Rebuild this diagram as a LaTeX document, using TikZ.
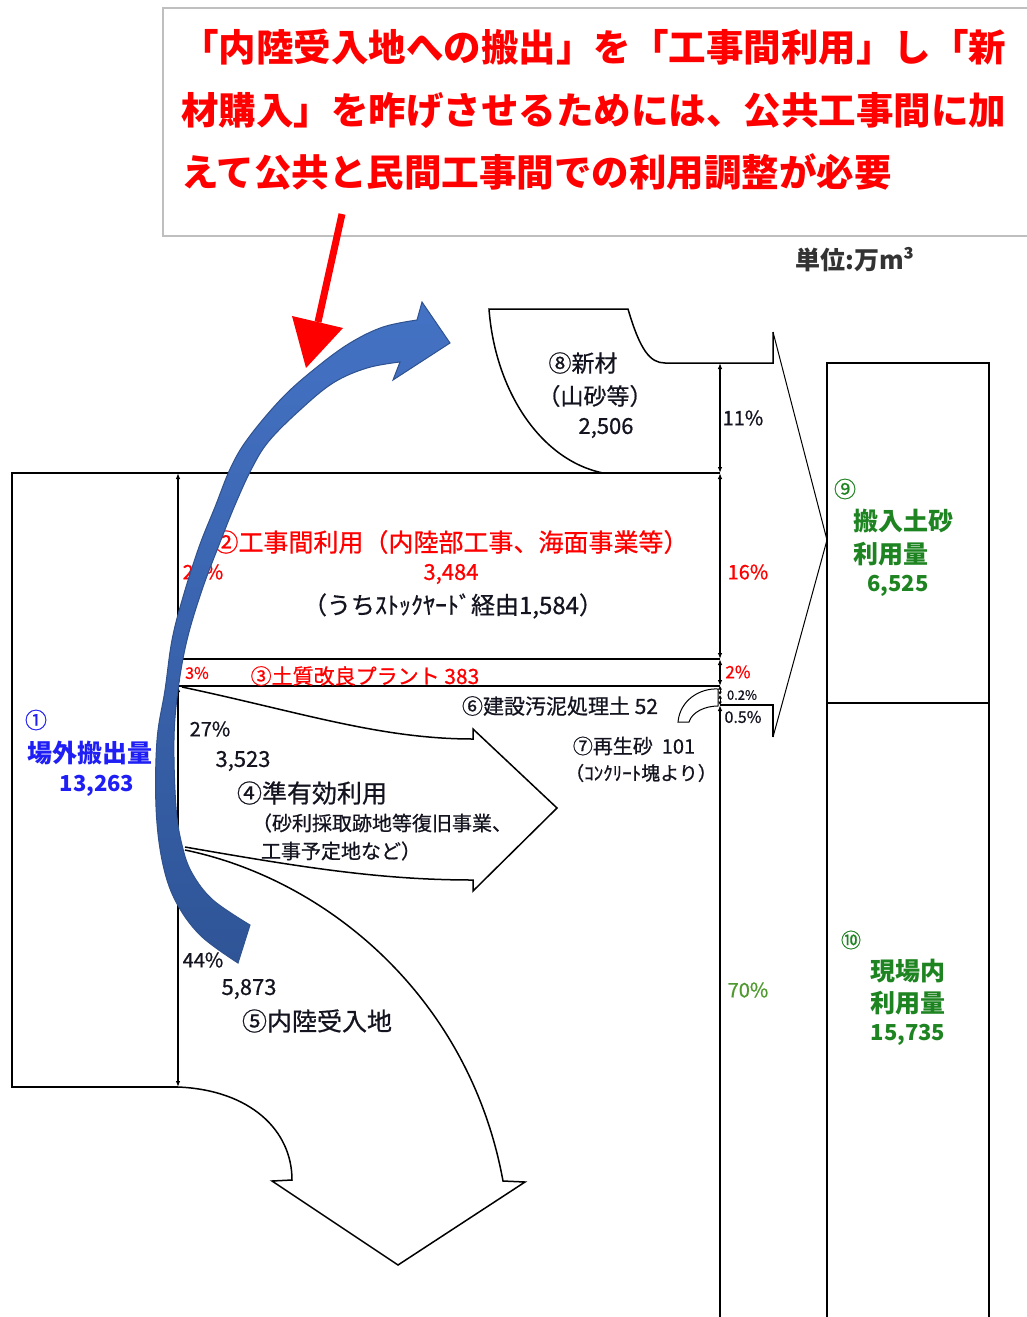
\documentclass[tikz,border=0pt]{standalone}
\usepackage{fontspec}
\setmainfont{Noto Sans CJK JP}[UprightFeatures={FakeBold=0.7}]
\usetikzlibrary{arrows.meta}
\definecolor{labelc}{HTML}{141420}
\definecolor{redc}{HTML}{FF0000}
\definecolor{greenc}{HTML}{1E8421}
\definecolor{lgreenc}{HTML}{4E9A2E}
\definecolor{bluec}{HTML}{1F1FF5}
\definecolor{grayc}{HTML}{BFBFBF}
\definecolor{unitc}{HTML}{333333}
\definecolor{arrtop}{HTML}{4472C4}
\definecolor{arrbot}{HTML}{2F5597}
\definecolor{arrline}{HTML}{2F528F}
\newcommand\myfs[1]{\fontsize{#1}{#1}\selectfont}
\begin{document}
\begin{tikzpicture}[x=1pt,y=-1pt,
  outl/.style={line width=1.5pt, black, line join=miter},
  thinl/.style={line width=1pt, black},
  dim/.style={line width=1.1pt, black, {Latex[length=6pt,width=4.5pt]}-{Latex[length=6pt,width=4.5pt]}},
  dimsm/.style={line width=1pt, black, {Latex[length=3.5pt,width=4pt]}-{Latex[length=3.5pt,width=4pt]}},
  dimst/.style={line width=1.1pt, black, {Latex[length=6pt,width=4.5pt]}-},
  lbl/.style={inner sep=0pt, anchor=center, text=labelc},
  big/.style={inner sep=0pt, anchor=west, text=redc, font=\myfs{37.5}\bfseries}
]
\useasboundingbox (0,0) rectangle (1027,1317);
\fill[white] (0,0) rectangle (1027,1317);

% callout box
\draw[grayc, line width=1.5pt] (1035,8) -- (163,8) -- (163,236) -- (1035,236);
\node[big] (t1) at (181,47) {「内陸受入地への搬出」を「工事間利用」し「新};
\node[big] (t2) at (181,110) {材購入」を昨げさせるためには、公共工事間に加};
\node[big] (t3) at (181,172) {えて公共と民間工事間での利用調整が必要};

\node[lbl, text=unitc, font=\myfs{25}\bfseries] (unit) at (855,260) {単位:万m³};

% box 1 and bands
\draw[outl] (720,473) -- (12,473) -- (12,1087) -- (178,1087);
\draw[outl] (178,659) -- (720,659);
\draw[outl] (178,686) -- (720,686);

% 8 shape and big arrow to 9
\draw[outl] (603,473) .. controls (540,460) and (495,390) .. (489,309) -- (628,309)
  .. controls (640,350) and (650,363) .. (665,363) -- (773,363) -- (773,332);
\draw[thinl] (773,332) -- (827,540) -- (773,737);
\draw[outl] (773,737) -- (773,705) -- (720,705);

% 4 arrow
\draw[outl] (182,687) .. controls (300,712) and (380,739) .. (473,739) -- (473,729)
  -- (557,808) -- (473,891) -- (473,880) .. controls (380,880) and (300,867) .. (185,847);

% 5 arrow
\draw[outl] (185,850) .. controls (330,880) and (470,1000) .. (503,1181) -- (525,1182)
  -- (398,1265) -- (272,1181) -- (292,1180) .. controls (292,1130) and (250,1090) .. (178,1087);

% 6 small arrow
\draw[thinl, fill=white] (678,722) .. controls (680,700) and (700,688) .. (718,689) -- (718,706)
  .. controls (705,706) and (692,712) .. (689,722) -- cycle;

% right boxes
\draw[outl] (827,1322) -- (827,363) -- (989,363) -- (989,1322);
\draw[outl] (827,703) -- (989,703);

% dimension lines
\coordinate (L1) at (178,473);
\coordinate (L2) at (178,659);
\coordinate (L3) at (178,686);
\coordinate (L4) at (178,848);
\coordinate (L5) at (178,1087);
\draw[dim] (L1) -- (L2);
\draw[dim] (L2) -- (L3);
\draw[dim] (L3) -- (L4);
\draw[dim] (L4) -- (L5);
\coordinate (R0) at (720,363);
\coordinate (R1) at (720,473);
\coordinate (R2) at (720,659);
\coordinate (R3) at (720,686);
\coordinate (R4) at (720,695);
\coordinate (R5) at (720,705);
\coordinate (R6) at (720,1322);
\draw[dim] (R0) -- (R1);
\draw[dim] (R1) -- (R2);
\draw[dim] (R2) -- (R3);
\draw[dimsm] (R3) -- (R4);
\draw[dimsm] (R4) -- (R5);
\draw[dimst] (R5) -- (R6);

% labels
\node[lbl, font=\myfs{23}] (n8a) at (583,363) {⑧新材};
\node[lbl, font=\myfs{23}] (n8b) at (595,396) {（山砂等）};
\node[lbl, font=\myfs{22}] (n8c) at (606,428) {2,506};
\node[lbl, font=\myfs{20}] (p11) at (743,418) {11\%};

\node[lbl, text=redc, font=\myfs{25}] (n2a) at (451,542) {②工事間利用（内陸部工事、海面事業等）};
\node[lbl, text=redc, font=\myfs{22}] (n2b) at (451,574) {3,484};
\node[lbl, font=\myfs{24}] (n2c) at (453,606) {（うちｽﾄｯｸﾔｰﾄﾞ経由1,584）};
\node[lbl, text=redc, font=\myfs{20}] (p26) at (203,572) {26\%};
\node[lbl, text=redc, font=\myfs{20}] (p16) at (748,572) {16\%};

\node[lbl, text=redc, font=\myfs{16}] (p3) at (197,673) {3\%};
\node[lbl, text=redc, font=\myfs{21}] (n3) at (365,676) {③土質改良プラント 383};
\node[lbl, text=redc, font=\myfs{17}] (p2) at (738,672) {2\%};
\node[lbl, font=\myfs{13}] (p02) at (742,695) {0.2\%};
\node[lbl, font=\myfs{16}] (p05) at (743,717) {0.5\%};

\node[lbl, font=\myfs{21}] (n6) at (560,706) {⑥建設汚泥処理土 52};
\node[lbl, font=\myfs{20}] (n7a) at (634,746) {⑦再生砂\ \ 101};
\node[lbl, font=\myfs{19}] (n7b) at (641,773) {（ｺﾝｸﾘｰﾄ塊より）};

\node[lbl, font=\myfs{20}] (p27) at (210,729) {27\%};
\node[lbl, font=\myfs{22}] (n4a) at (243,761) {3,523};
\node[lbl, font=\myfs{25}] (n4b) at (312,793) {④準有効利用};
\node[lbl, font=\myfs{20}] (n4c) at (382,823) {（砂利採取跡地等復旧事業、};
\node[lbl, font=\myfs{20}] (n4d) at (341,851) {工事予定地など）};

\node[lbl, font=\myfs{20}] (p44) at (203,960) {44\%};
\node[lbl, font=\myfs{22}] (n5a) at (249,989) {5,873};
\node[lbl, font=\myfs{25}] (n5b) at (317,1021) {⑤内陸受入地};

\node[lbl, text=bluec, font=\myfs{22}] (n1a) at (36,720) {①};
\node[lbl, text=bluec, font=\myfs{25}\bfseries] (n1b) at (90,753) {場外搬出量};
\node[lbl, text=bluec, font=\myfs{22}\bfseries] (n1c) at (97,786) {13,263};

\node[lbl, text=greenc, font=\myfs{22}] (n9a) at (845,489) {⑨};
\node[lbl, text=greenc, font=\myfs{25}\bfseries] (n9b) at (903,521) {搬入土砂};
\node[lbl, text=greenc, font=\myfs{25}\bfseries] (n9c) at (891,554) {利用量};
\node[lbl, text=greenc, font=\myfs{22}\bfseries] (n9d) at (898,586) {6,525};

\node[lbl, text=greenc, font=\myfs{20}] (n10a) at (851,940) {⑩};
\node[lbl, text=greenc, font=\myfs{25}\bfseries] (n10b) at (908,971) {現場内};
\node[lbl, text=greenc, font=\myfs{25}\bfseries] (n10c) at (908,1003) {利用量};
\node[lbl, text=greenc, font=\myfs{22}\bfseries] (n10d) at (908,1035) {15,735};
\node[lbl, text=lgreenc, font=\myfs{20}] (p70) at (748,990) {70\%};

% blue curved arrow
\path[draw=arrline, line width=1pt, top color=arrtop, bottom color=arrbot]
  plot[smooth, tension=0.6] coordinates {(238,963) (200,935) (175,900) (162,860) (156,807) (157,740)
    (165,690) (172,640) (183,597) (199,547) (215,507) (231,467) (249,437) (283,397)
    (317,367) (350,343) (383,327) (417,320)}
  -- (422,302) -- (450,343) -- (393,380) --
  plot[smooth, tension=0.6] coordinates {(400,362) (367,368) (333,383) (300,410) (269,441)
    (252,468) (235,505) (219,545) (202,590) (187,640) (178,690) (174,740) (176,807)
    (182,845) (192,873) (213,900) (250,925)}
  -- cycle;

% red arrow
\coordinate (rs) at (342,214);
\coordinate (re) at (318,322);
\draw[redc, line width=7pt] (rs) -- (re);
\fill[redc] (292,316) -- (343,328) -- (306,368) -- cycle;
\end{tikzpicture}
\end{document}
